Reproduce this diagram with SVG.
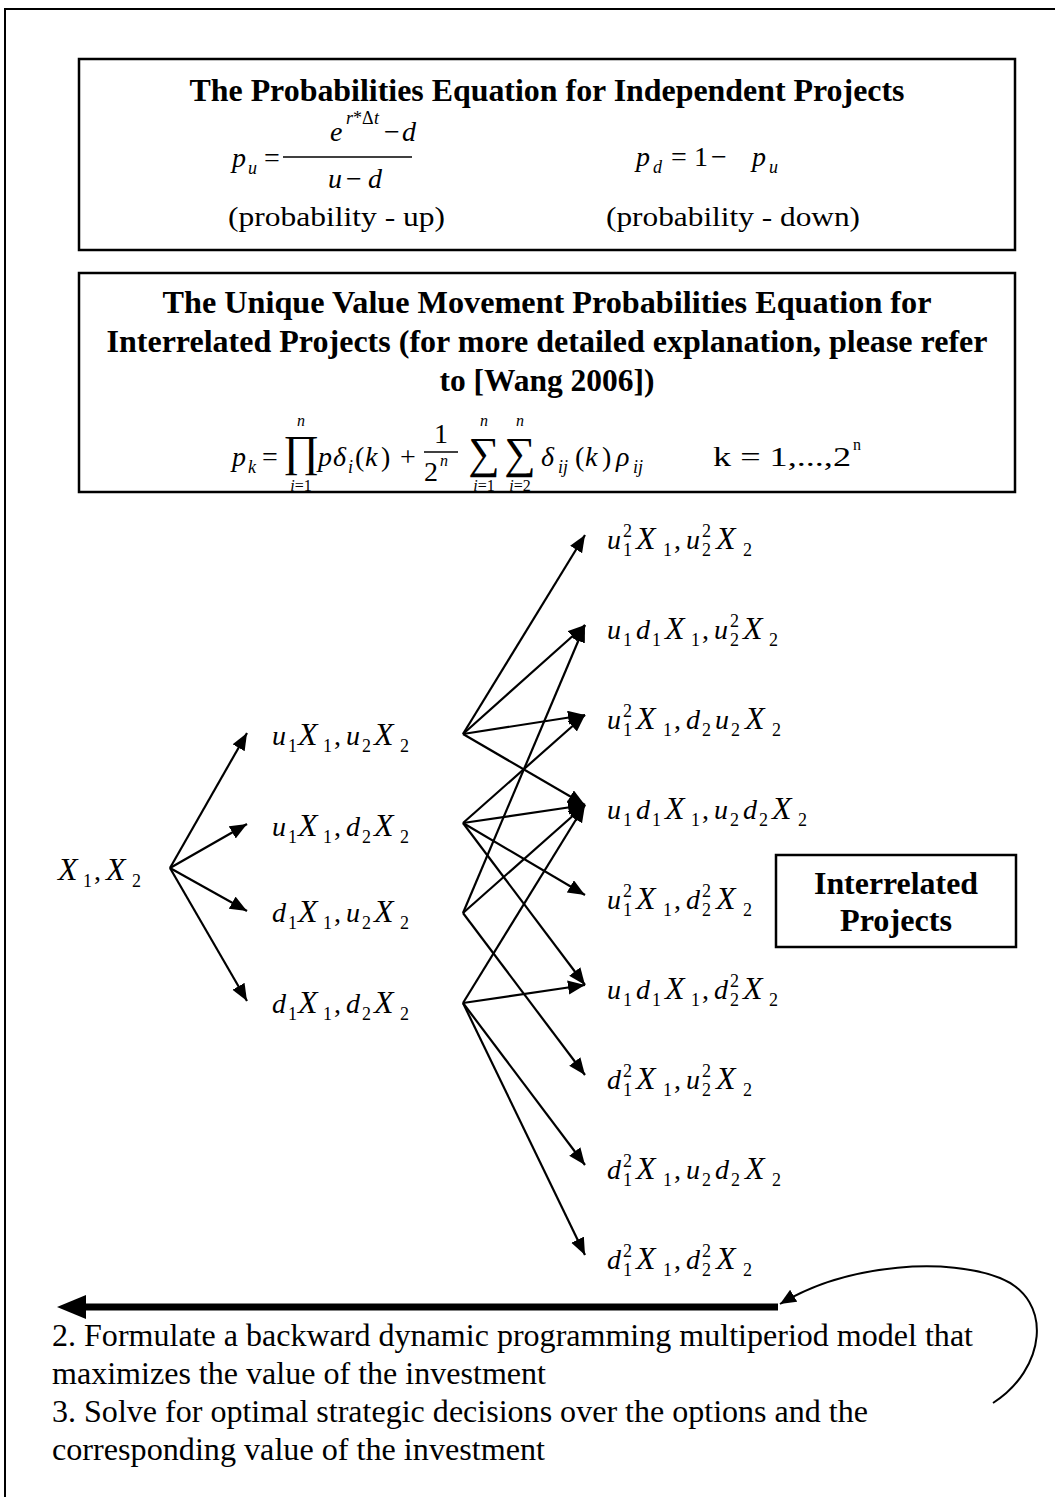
<svg xmlns="http://www.w3.org/2000/svg" width="1055" height="1497" viewBox="0 0 1055 1497" font-family="'Liberation Serif', 'Times New Roman', Times, serif">
<style>
text{font-family:"Liberation Serif","Times New Roman",Times,serif;fill:#000}
.b{font-weight:bold;font-size:32px}
.m{font-style:italic;font-size:28px}
.x{font-style:italic;font-size:32px}
.n{font-style:normal;font-size:28px}
.s{font-style:normal;font-size:18px}
.si{font-style:italic;font-size:18px}
.lim{font-style:normal;font-size:16px}
.limi{font-style:italic;font-size:16px}
.big{font-style:normal;font-size:44px}
.body{font-size:32px}
.box{fill:none;stroke:#000;stroke-width:2.5}
.edge{fill:none;stroke:#000;stroke-width:2.2}
</style>
<defs>
<marker id="ah" markerUnits="userSpaceOnUse" markerWidth="18" markerHeight="16" refX="17" refY="7" orient="auto"><path d="M0,0 L17,7 L0,14 Z" fill="#000"/></marker>
<marker id="ah2" markerUnits="userSpaceOnUse" markerWidth="18" markerHeight="16" refX="16" refY="7" orient="auto"><path d="M0,0 L16,7 L0,14 Z" fill="#000"/></marker>
</defs>
<path d="M5,1497 V9 H1055" fill="none" stroke="#000" stroke-width="2"/>

<g id="box-independent">
<rect class="box" x="79" y="59" width="936" height="191"/>
<text class="b" x="547" y="101" text-anchor="middle" textLength="715" lengthAdjust="spacingAndGlyphs">The Probabilities Equation for Independent Projects</text>
<text class="m"><tspan x="232" y="167">p</tspan><tspan class="si" x="248" y="174">u</tspan><tspan class="n" x="264" y="167">=</tspan></text>
<line x1="283" y1="157" x2="412" y2="157" stroke="#000" stroke-width="1.5"/>
<text class="m"><tspan x="330" y="141">e</tspan><tspan class="si" x="346" y="124" font-size="17">r</tspan><tspan class="s" x="353" y="124" font-size="17">*</tspan><tspan class="s" x="362" y="124" font-size="17">Δ</tspan><tspan class="si" x="374" y="124" font-size="17">t</tspan><tspan class="n" x="384" y="141">−</tspan><tspan x="402" y="141">d</tspan></text>
<text class="m"><tspan x="328" y="188">u</tspan><tspan class="n" x="346" y="188">−</tspan><tspan x="368" y="188">d</tspan></text>
<text class="m"><tspan x="636" y="166">p</tspan><tspan class="si" x="653" y="173">d</tspan><tspan class="n" x="671" y="166">=</tspan><tspan class="n" x="694" y="166">1</tspan><tspan class="n" x="711" y="166">−</tspan><tspan x="752" y="166">p</tspan><tspan class="si" x="769" y="173">u</tspan></text>
<text class="n" x="228" y="226" font-size="32" textLength="217" lengthAdjust="spacingAndGlyphs">(probability - up)</text>
<text class="n" x="606" y="226" font-size="32" textLength="254" lengthAdjust="spacingAndGlyphs">(probability - down)</text>
</g>

<g id="box-interrelated-eq">
<rect class="box" x="79" y="273" width="936" height="219"/>
<text class="b" x="547" y="313" text-anchor="middle" textLength="769" lengthAdjust="spacingAndGlyphs">The Unique Value Movement Probabilities Equation for</text>
<text class="b" x="547" y="352" text-anchor="middle" textLength="881" lengthAdjust="spacingAndGlyphs">Interrelated Projects (for more detailed explanation, please refer</text>
<text class="b" x="547" y="391" text-anchor="middle" textLength="215" lengthAdjust="spacingAndGlyphs">to [Wang 2006])</text>
<text class="m"><tspan x="232" y="466">p</tspan><tspan class="si" x="248" y="473">k</tspan><tspan class="n" x="262" y="466">=</tspan></text>
<text class="big" x="301" y="466" text-anchor="middle" font-size="38">∏</text>
<text class="limi" x="301" y="426" text-anchor="middle">n</text>
<text class="lim" x="301" y="491" text-anchor="middle"><tspan font-style="italic">i</tspan>=1</text>
<text class="m"><tspan x="318" y="466">p</tspan><tspan x="333" y="466">δ</tspan><tspan class="si" x="348" y="473">i</tspan><tspan class="n" x="355" y="466">(</tspan><tspan x="365" y="466">k</tspan><tspan class="n" x="381" y="466">)</tspan><tspan class="n" x="400" y="466">+</tspan></text>
<text class="n" x="441" y="443" text-anchor="middle">1</text>
<line x1="424" y1="452" x2="458" y2="452" stroke="#000" stroke-width="1.5"/>
<text class="n" x="424" y="481">2</text>
<text class="limi" x="440" y="466">n</text>
<text class="big" x="484" y="468" text-anchor="middle">∑</text>
<text class="limi" x="484" y="426" text-anchor="middle">n</text>
<text class="lim" x="484" y="491" text-anchor="middle"><tspan font-style="italic">i</tspan>=1</text>
<text class="big" x="520" y="468" text-anchor="middle">∑</text>
<text class="limi" x="520" y="426" text-anchor="middle">n</text>
<text class="lim" x="520" y="491" text-anchor="middle"><tspan font-style="italic">i</tspan>=2</text>
<text class="m"><tspan x="541" y="466">δ</tspan><tspan class="si" x="558" y="473">ij</tspan><tspan class="n" x="575" y="466">(</tspan><tspan x="585" y="466">k</tspan><tspan class="n" x="602" y="466">)</tspan><tspan x="616" y="466">ρ</tspan><tspan class="si" x="633" y="473">ij</tspan></text>
<text class="n" x="713" y="466" textLength="138" lengthAdjust="spacingAndGlyphs">k = 1,...,2</text>
<text class="lim" x="853" y="450">n</text>
</g>

<g id="box-interrelated-label">
<rect class="box" x="776" y="855" width="240" height="92"/>
<text class="b" x="896" y="894" text-anchor="middle" textLength="164" lengthAdjust="spacingAndGlyphs">Interrelated</text>
<text class="b" x="896" y="931" text-anchor="middle" textLength="112" lengthAdjust="spacingAndGlyphs">Projects</text>
</g>

<g id="node-root"><text class="m"><tspan class="x" x="58" y="880">X</tspan><tspan class="s" x="83" y="887">1</tspan><tspan class="n" x="94" y="880">,</tspan><tspan class="x" x="106" y="880">X</tspan><tspan class="s" x="132" y="887">2</tspan></text></g>

<g id="node-uu"><text class="m"><tspan x="272" y="745">u</tspan><tspan class="s" x="288" y="752">1</tspan><tspan class="x" x="298" y="745">X</tspan><tspan class="s" x="323" y="752">1</tspan><tspan class="n" x="334" y="745">,</tspan><tspan x="346" y="745">u</tspan><tspan class="s" x="362" y="752">2</tspan><tspan class="x" x="374" y="745">X</tspan><tspan class="s" x="400" y="752">2</tspan></text></g>
<g id="node-ud"><text class="m"><tspan x="272" y="836">u</tspan><tspan class="s" x="288" y="843">1</tspan><tspan class="x" x="298" y="836">X</tspan><tspan class="s" x="323" y="843">1</tspan><tspan class="n" x="334" y="836">,</tspan><tspan x="346" y="836">d</tspan><tspan class="s" x="362" y="843">2</tspan><tspan class="x" x="374" y="836">X</tspan><tspan class="s" x="400" y="843">2</tspan></text></g>
<g id="node-du"><text class="m"><tspan x="272" y="922">d</tspan><tspan class="s" x="288" y="929">1</tspan><tspan class="x" x="298" y="922">X</tspan><tspan class="s" x="323" y="929">1</tspan><tspan class="n" x="334" y="922">,</tspan><tspan x="346" y="922">u</tspan><tspan class="s" x="362" y="929">2</tspan><tspan class="x" x="374" y="922">X</tspan><tspan class="s" x="400" y="929">2</tspan></text></g>
<g id="node-dd"><text class="m"><tspan x="272" y="1013">d</tspan><tspan class="s" x="288" y="1020">1</tspan><tspan class="x" x="298" y="1013">X</tspan><tspan class="s" x="323" y="1020">1</tspan><tspan class="n" x="334" y="1013">,</tspan><tspan x="346" y="1013">d</tspan><tspan class="s" x="362" y="1020">2</tspan><tspan class="x" x="374" y="1013">X</tspan><tspan class="s" x="400" y="1020">2</tspan></text></g>

<g id="node-l2-1"><text class="m"><tspan x="607" y="549">u</tspan><tspan class="s" x="623" y="556">1</tspan><tspan class="s" x="623" y="537">2</tspan><tspan class="x" x="636" y="549">X</tspan><tspan class="s" x="663" y="556">1</tspan><tspan class="n" x="674" y="549">,</tspan><tspan x="686" y="549">u</tspan><tspan class="s" x="702" y="556">2</tspan><tspan class="s" x="702" y="537">2</tspan><tspan class="x" x="716" y="549">X</tspan><tspan class="s" x="743" y="556">2</tspan></text></g>
<g id="node-l2-2"><text class="m"><tspan x="607" y="639">u</tspan><tspan class="s" x="623" y="646">1</tspan><tspan x="636" y="639">d</tspan><tspan class="s" x="652" y="646">1</tspan><tspan class="x" x="665" y="639">X</tspan><tspan class="s" x="691" y="646">1</tspan><tspan class="n" x="702" y="639">,</tspan><tspan x="714" y="639">u</tspan><tspan class="s" x="730" y="646">2</tspan><tspan class="s" x="730" y="627">2</tspan><tspan class="x" x="743" y="639">X</tspan><tspan class="s" x="769" y="646">2</tspan></text></g>
<g id="node-l2-3"><text class="m"><tspan x="607" y="729">u</tspan><tspan class="s" x="623" y="736">1</tspan><tspan class="s" x="623" y="717">2</tspan><tspan class="x" x="636" y="729">X</tspan><tspan class="s" x="663" y="736">1</tspan><tspan class="n" x="674" y="729">,</tspan><tspan x="686" y="729">d</tspan><tspan class="s" x="702" y="736">2</tspan><tspan x="715" y="729">u</tspan><tspan class="s" x="731" y="736">2</tspan><tspan class="x" x="745" y="729">X</tspan><tspan class="s" x="772" y="736">2</tspan></text></g>
<g id="node-l2-4"><text class="m"><tspan x="607" y="819">u</tspan><tspan class="s" x="623" y="826">1</tspan><tspan x="636" y="819">d</tspan><tspan class="s" x="652" y="826">1</tspan><tspan class="x" x="665" y="819">X</tspan><tspan class="s" x="691" y="826">1</tspan><tspan class="n" x="702" y="819">,</tspan><tspan x="714" y="819">u</tspan><tspan class="s" x="730" y="826">2</tspan><tspan x="743" y="819">d</tspan><tspan class="s" x="759" y="826">2</tspan><tspan class="x" x="772" y="819">X</tspan><tspan class="s" x="798" y="826">2</tspan></text></g>
<g id="node-l2-5"><text class="m"><tspan x="607" y="909">u</tspan><tspan class="s" x="623" y="916">1</tspan><tspan class="s" x="623" y="897">2</tspan><tspan class="x" x="636" y="909">X</tspan><tspan class="s" x="663" y="916">1</tspan><tspan class="n" x="674" y="909">,</tspan><tspan x="686" y="909">d</tspan><tspan class="s" x="702" y="916">2</tspan><tspan class="s" x="702" y="897">2</tspan><tspan class="x" x="716" y="909">X</tspan><tspan class="s" x="743" y="916">2</tspan></text></g>
<g id="node-l2-6"><text class="m"><tspan x="607" y="999">u</tspan><tspan class="s" x="623" y="1006">1</tspan><tspan x="636" y="999">d</tspan><tspan class="s" x="652" y="1006">1</tspan><tspan class="x" x="665" y="999">X</tspan><tspan class="s" x="691" y="1006">1</tspan><tspan class="n" x="702" y="999">,</tspan><tspan x="714" y="999">d</tspan><tspan class="s" x="730" y="1006">2</tspan><tspan class="s" x="730" y="987">2</tspan><tspan class="x" x="743" y="999">X</tspan><tspan class="s" x="769" y="1006">2</tspan></text></g>
<g id="node-l2-7"><text class="m"><tspan x="607" y="1089">d</tspan><tspan class="s" x="623" y="1096">1</tspan><tspan class="s" x="623" y="1077">2</tspan><tspan class="x" x="636" y="1089">X</tspan><tspan class="s" x="663" y="1096">1</tspan><tspan class="n" x="674" y="1089">,</tspan><tspan x="686" y="1089">u</tspan><tspan class="s" x="702" y="1096">2</tspan><tspan class="s" x="702" y="1077">2</tspan><tspan class="x" x="716" y="1089">X</tspan><tspan class="s" x="743" y="1096">2</tspan></text></g>
<g id="node-l2-8"><text class="m"><tspan x="607" y="1179">d</tspan><tspan class="s" x="623" y="1186">1</tspan><tspan class="s" x="623" y="1167">2</tspan><tspan class="x" x="636" y="1179">X</tspan><tspan class="s" x="663" y="1186">1</tspan><tspan class="n" x="674" y="1179">,</tspan><tspan x="686" y="1179">u</tspan><tspan class="s" x="702" y="1186">2</tspan><tspan x="715" y="1179">d</tspan><tspan class="s" x="731" y="1186">2</tspan><tspan class="x" x="745" y="1179">X</tspan><tspan class="s" x="772" y="1186">2</tspan></text></g>
<g id="node-l2-9"><text class="m"><tspan x="607" y="1269">d</tspan><tspan class="s" x="623" y="1276">1</tspan><tspan class="s" x="623" y="1257">2</tspan><tspan class="x" x="636" y="1269">X</tspan><tspan class="s" x="663" y="1276">1</tspan><tspan class="n" x="674" y="1269">,</tspan><tspan x="686" y="1269">d</tspan><tspan class="s" x="702" y="1276">2</tspan><tspan class="s" x="702" y="1257">2</tspan><tspan class="x" x="716" y="1269">X</tspan><tspan class="s" x="743" y="1276">2</tspan></text></g>

<g id="connectors">
<line class="edge" x1="170" y1="868" x2="247" y2="733" marker-end="url(#ah)"/>
<line class="edge" x1="170" y1="868" x2="247" y2="824" marker-end="url(#ah)"/>
<line class="edge" x1="170" y1="868" x2="247" y2="911" marker-end="url(#ah)"/>
<line class="edge" x1="170" y1="868" x2="247" y2="1001" marker-end="url(#ah)"/>
<line class="edge" x1="463" y1="734" x2="585" y2="535" marker-end="url(#ah)"/>
<line class="edge" x1="463" y1="734" x2="585" y2="625" marker-end="url(#ah)"/>
<line class="edge" x1="463" y1="734" x2="585" y2="715" marker-end="url(#ah)"/>
<line class="edge" x1="463" y1="734" x2="585" y2="805" marker-end="url(#ah)"/>
<line class="edge" x1="463" y1="823" x2="585" y2="715" marker-end="url(#ah)"/>
<line class="edge" x1="463" y1="823" x2="585" y2="805" marker-end="url(#ah)"/>
<line class="edge" x1="463" y1="823" x2="585" y2="895" marker-end="url(#ah)"/>
<line class="edge" x1="463" y1="823" x2="585" y2="985" marker-end="url(#ah)"/>
<line class="edge" x1="463" y1="913" x2="585" y2="625" marker-end="url(#ah)"/>
<line class="edge" x1="463" y1="913" x2="585" y2="805" marker-end="url(#ah)"/>
<line class="edge" x1="463" y1="913" x2="585" y2="1075" marker-end="url(#ah)"/>
<line class="edge" x1="463" y1="1003" x2="585" y2="805" marker-end="url(#ah)"/>
<line class="edge" x1="463" y1="1003" x2="585" y2="985" marker-end="url(#ah)"/>
<line class="edge" x1="463" y1="1003" x2="585" y2="1165" marker-end="url(#ah)"/>
<line class="edge" x1="463" y1="1003" x2="585" y2="1255" marker-end="url(#ah)"/>
<line x1="778" y1="1307" x2="80" y2="1307" stroke="#000" stroke-width="7"/>
<path d="M57,1307 L86,1295 L86,1319 Z" fill="#000"/>
<path d="M993,1403 C1045,1370 1055,1300 1000,1278 C950,1258 850,1262 780,1304" fill="none" stroke="#000" stroke-width="2" marker-end="url(#ah2)"/>
</g>

<g id="steps">
<text class="body" x="52" y="1346" textLength="921" lengthAdjust="spacingAndGlyphs">2. Formulate a backward dynamic programming multiperiod model that</text>
<text class="body" x="52" y="1384" textLength="494" lengthAdjust="spacingAndGlyphs">maximizes the value of the investment</text>
<text class="body" x="52" y="1422" textLength="816" lengthAdjust="spacingAndGlyphs">3. Solve for optimal strategic decisions over the options and the</text>
<text class="body" x="52" y="1460" textLength="493" lengthAdjust="spacingAndGlyphs">corresponding value of the investment</text>
</g>
</svg>
